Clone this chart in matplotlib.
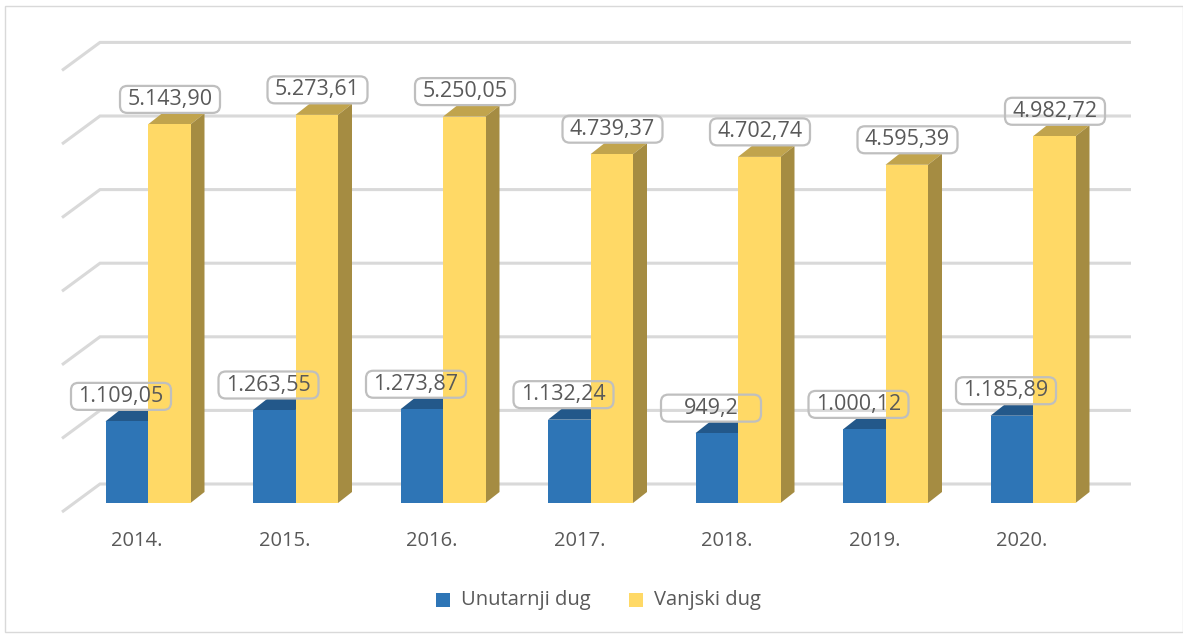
import matplotlib
matplotlib.use("Agg")
import matplotlib.pyplot as plt
from matplotlib.patches import Polygon, FancyBboxPatch, Rectangle

years = ["2014.", "2015.", "2016.", "2017.", "2018.", "2019.", "2020."]
unutarnji = [1109.05, 1263.55, 1273.87, 1132.24, 949.2, 1000.12, 1185.89]
vanjski = [5143.90, 5273.61, 5250.05, 4739.37, 4702.74, 4595.39, 4982.72]
unutarnji_labels = ["1.109,05", "1.263,55", "1.273,87", "1.132,24", "949,2", "1.000,12", "1.185,89"]
vanjski_labels = ["5.143,90", "5.273,61", "5.250,05", "4.739,37", "4.702,74", "4.595,39", "4.982,72"]
grid_values = [0, 1000, 2000, 3000, 4000, 5000, 6000]

W, H = 1183, 634
PX_X = 147.5      # px per category
PX_Y = 0.0736     # px per unit
X0, Y0 = 148, 503  # pixel of category 0 / value 0

plt.rcParams['font.family'] = ['Open Sans', 'DejaVu Sans']
fig = plt.figure(figsize=(W/100, H/100), dpi=100, facecolor='white')
ax = fig.add_axes([0, 0, 1, 1])
ax.set_xlim(-X0/PX_X, (W-X0)/PX_X)
ax.set_ylim(-(H-Y0)/PX_Y, Y0/PX_Y)
ax.axis('off')

dx = 14/PX_X       # depth of bars
dy = 11/PX_Y
gx = 38/PX_X       # depth of floor/wall
gy = 28/PX_Y
bw = 42.5/PX_X
back_y = 19/PX_Y
front_left = (62-X0)/PX_X
back_left = (100-X0)/PX_X
right = (1131-X0)/PX_X

GRID = '#d9d9d9'
TXT = '#595959'
BLUE, BLUE_TOP = '#2e75b6', '#23588a'
YEL, YEL_TOP, YEL_SIDE = '#ffd966', '#c1a44d', '#a58c42'

# chart frame
ax.add_patch(Rectangle((-X0/PX_X + 5/PX_X, -(H-Y0)/PX_Y + 2/PX_Y), (W-5)/PX_X, (H-8)/PY if False else (H-8)/PX_Y,
                       fill=False, ec='#d9d9d9', lw=1.0, zorder=1))

# gridlines on back wall and side wall
for v in grid_values:
    yb = v + back_y
    ax.plot([front_left, back_left, right], [yb - gy, yb, yb], color=GRID, lw=2.2,
            solid_capstyle='butt', solid_joinstyle='miter', zorder=2)

def bar3d(left, value, front, top, side, z):
    ax.bar(left + bw/2, value, width=bw, color=front, zorder=z + 0.2)
    ax.add_patch(Polygon([(left, value), (left+bw, value), (left+bw+dx, value+dy), (left+dx, value+dy)],
                         closed=True, fc=top, ec='none', zorder=z))
    ax.add_patch(Polygon([(left+bw, 0), (left+bw+dx, dy), (left+bw+dx, value+dy), (left+bw, value)],
                         closed=True, fc=side, ec='none', zorder=z))

def label(cx, cy, s):
    w, h = 100/PX_X, 27/PX_Y
    ax.add_patch(FancyBboxPatch((cx - w/2, cy - h/2), w, h,
                 boxstyle=f"round,pad=0,rounding_size={0.05}", mutation_aspect=6/PX_Y/0.05/PX_X*PX_X/PX_X if False else (1/PX_Y)/(1/PX_X),
                 fill=False, ec='#bfbfbf', lw=1.6, zorder=8))
    ax.text(cx, cy, s, ha='center', va='center', color=TXT, fontsize=15.5, zorder=9)

for i, y in enumerate(years):
    bar3d(i - bw, unutarnji[i], BLUE, BLUE_TOP, BLUE_TOP, 3)
    bar3d(i, vanjski[i], YEL, YEL_TOP, YEL_SIDE, 4)
    ax.text(i - 11/PX_X, -38/PX_Y, y, ha='center', va='center', color=TXT, fontsize=14.5, zorder=9)

for i in range(7):
    label(i + 22/PX_X, vanjski[i] + 25/PX_Y, vanjski_labels[i])
    label(i - 27/PX_X, unutarnji[i] + 25/PX_Y, unutarnji_labels[i])

# legend
ax.add_patch(Rectangle(((436-X0)/PX_X, (Y0-607)/PX_Y), 14/PX_X, 14/PX_Y, fc=BLUE, ec='none'))
ax.add_patch(Rectangle(((629-X0)/PX_X, (Y0-607)/PX_Y), 14/PX_X, 14/PX_Y, fc=YEL, ec='none'))
ax.text((461-X0)/PX_X, (Y0-600)/PX_Y, "Unutarnji dug", ha='left', va='center', color=TXT, fontsize=14.5)
ax.text((654-X0)/PX_X, (Y0-600)/PX_Y, "Vanjski dug", ha='left', va='center', color=TXT, fontsize=14.5)

fig.savefig("out.png", dpi=100)
